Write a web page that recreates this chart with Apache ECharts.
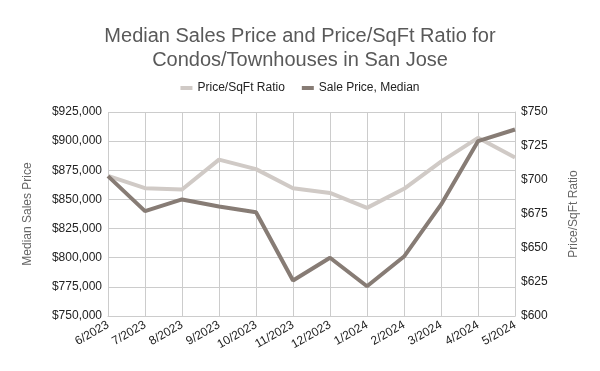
<!DOCTYPE html>
<html><head><meta charset="utf-8">
<script src="https://cdn.jsdelivr.net/npm/echarts@6/dist/echarts.min.js"></script>
<style>html,body{margin:0;padding:0;background:#fff}#c{width:600px;height:371px}</style>
</head><body><div id="c"></div>
<script>
const categories = ['6/2023','7/2023','8/2023','9/2023','10/2023','11/2023','12/2023','1/2024','2/2024','3/2024','4/2024','5/2024'];
const pricePerSqft = [703, 694, 693, 715, 708, 694, 690.5, 679.5, 693.5, 713.5, 731, 716.5];
const salePriceMedian = [870000, 840000, 850000, 844000, 839000, 780500, 800000, 775500, 801000, 845500, 900000, 910000];
const leftTicks = {min: 750000, max: 925000, interval: 25000};
const rightTicks = {min: 600, max: 750, interval: 25};

const font = 'Liberation Sans, Arial, sans-serif';
const chart = echarts.init(document.getElementById('c'));
chart.setOption({
  animation: false,
  title: {
    text: 'Median Sales Price and Price/SqFt Ratio for\nCondos/Townhouses in San Jose',
    left: 'center', top: 19,
    textStyle: {fontFamily: font, fontSize: 20, fontWeight: 'normal', color: '#595959', lineHeight: 24}
  },
  legend: {
    top: 77, left: 'center', itemWidth: 12, itemHeight: 4, itemGap: 17,
    icon: 'rect',
    textStyle: {fontFamily: font, fontSize: 12, color: '#222'},
    data: ['Price/SqFt Ratio', 'Sale Price, Median']
  },
  grid: {left: 108, right: 85, top: 112, bottom: 55},
  xAxis: {
    type: 'category', data: categories, boundaryGap: false,
    axisLine: {lineStyle: {color: '#cccccc'}},
    axisTick: {show: false},
    splitLine: {show: true, lineStyle: {color: '#cccccc'}},
    axisLabel: {rotate: 30, fontFamily: font, fontSize: 12, color: '#222', margin: 8, interval: 0}
  },
  yAxis: [
    {
      type: 'value', min: leftTicks.min, max: leftTicks.max, interval: leftTicks.interval,
      name: 'Median Sales Price', nameLocation: 'middle', nameGap: 74, nameRotate: 90,
      nameTextStyle: {fontFamily: font, fontSize: 12, color: '#666'},
      axisLine: {show: false}, axisTick: {show: false},
      splitLine: {lineStyle: {color: '#cccccc'}},
      axisLabel: {fontFamily: font, fontSize: 12, color: '#222', margin: 6,
        formatter: v => '$' + v.toLocaleString('en-US')}
    },
    {
      type: 'value', min: rightTicks.min, max: rightTicks.max, interval: rightTicks.interval,
      name: 'Price/SqFt Ratio', nameLocation: 'middle', nameGap: 53, nameRotate: 90,
      nameTextStyle: {fontFamily: font, fontSize: 12, color: '#666'},
      axisLine: {show: true, lineStyle: {color: '#cccccc'}}, axisTick: {show: false},
      splitLine: {show: false},
      axisLabel: {fontFamily: font, fontSize: 12, color: '#222', margin: 6,
        formatter: v => '$' + v}
    }
  ],
  series: [
    {
      name: 'Price/SqFt Ratio', type: 'line', yAxisIndex: 1, data: pricePerSqft,
      showSymbol: false, symbol: 'none', lineStyle: {width: 4, color: '#d0cac6'},
      itemStyle: {color: '#d0cac6'}, z: 2
    },
    {
      name: 'Sale Price, Median', type: 'line', yAxisIndex: 0, data: salePriceMedian,
      showSymbol: false, symbol: 'none', lineStyle: {width: 4, color: '#877c75'},
      itemStyle: {color: '#877c75'}, z: 3
    }
  ]
});
</script></body></html>
